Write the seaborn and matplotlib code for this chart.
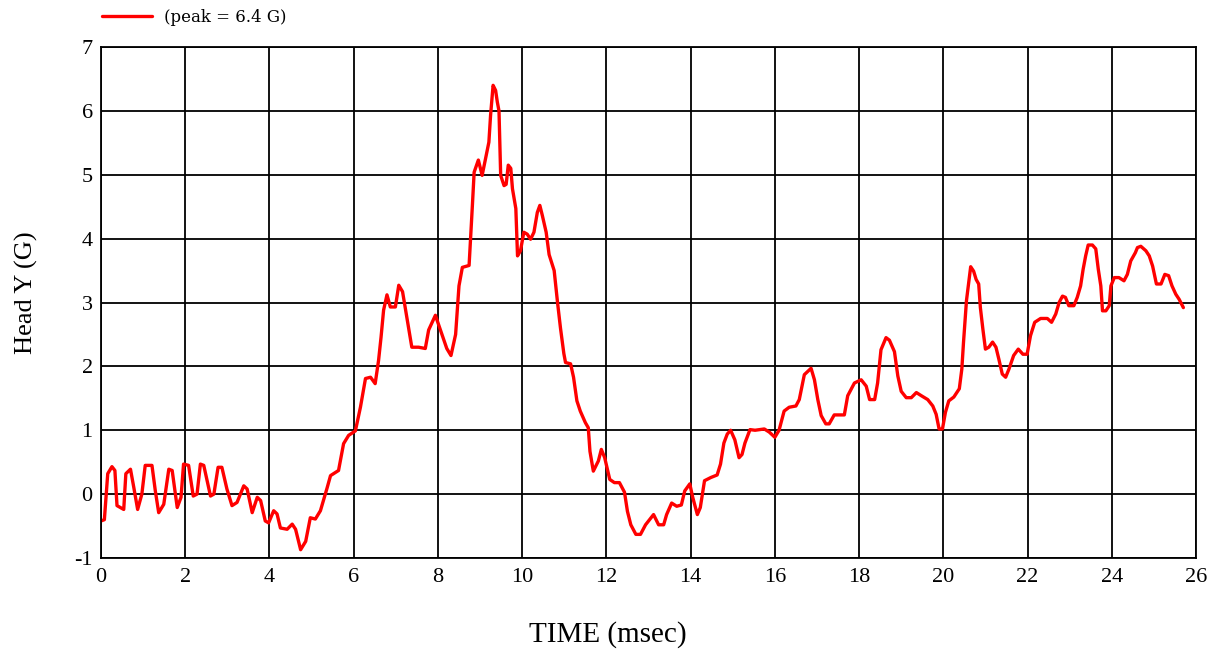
import matplotlib
matplotlib.use("Agg")
import matplotlib.pyplot as plt
import seaborn as sns
import pandas as pd

time_ms = [0.00, 0.08, 0.16, 0.26, 0.33, 0.38, 0.54, 0.59, 0.70, 0.78, 0.87, 0.97, 1.05, 1.21, 1.29, 1.37,
           1.49, 1.61, 1.69, 1.81, 1.90, 1.96, 2.08, 2.19, 2.28, 2.36, 2.44, 2.60, 2.68, 2.78, 2.87, 2.99,
           3.11, 3.23, 3.39, 3.47, 3.59, 3.71, 3.79, 3.90, 3.98, 4.10, 4.18, 4.26, 4.42, 4.54, 4.62, 4.74,
           4.86, 4.97, 5.09, 5.21, 5.37, 5.45, 5.64, 5.76, 5.88, 6.04, 6.16, 6.28, 6.40, 6.51, 6.59, 6.65,
           6.71, 6.79, 6.87, 6.99, 7.07, 7.16, 7.26, 7.38, 7.54, 7.70, 7.78, 7.94, 8.09, 8.21, 8.31, 8.42,
           8.50, 8.58, 8.74, 8.78, 8.82, 8.86, 8.96, 9.05, 9.13, 9.21, 9.25, 9.31, 9.37, 9.41, 9.45, 9.49,
           9.57, 9.62, 9.67, 9.73, 9.77, 9.85, 9.87, 9.89, 9.96, 10.04, 10.12, 10.20, 10.28, 10.36, 10.42,
           10.48, 10.57, 10.64, 10.76, 10.84, 10.91, 10.99, 11.03, 11.15, 11.22, 11.30, 11.38, 11.50, 11.57,
           11.61, 11.69, 11.81, 11.88, 11.96, 12.08, 12.19, 12.31, 12.43, 12.50, 12.58, 12.70, 12.81, 12.93,
           13.12, 13.24, 13.36, 13.43, 13.55, 13.67, 13.78, 13.86, 13.98, 14.05, 14.16, 14.23, 14.33, 14.48,
           14.63, 14.71, 14.79, 14.87, 14.95, 15.05, 15.15, 15.22, 15.29, 15.41, 15.53, 15.65, 15.75, 15.87,
           16.00, 16.10, 16.22, 16.34, 16.50, 16.58, 16.70, 16.86, 16.94, 17.02, 17.10, 17.21, 17.29, 17.41,
           17.65, 17.73, 17.89, 18.05, 18.17, 18.25, 18.37, 18.44, 18.52, 18.64, 18.72, 18.84, 18.92, 19.00,
           19.12, 19.24, 19.36, 19.48, 19.63, 19.75, 19.83, 19.90, 19.98, 20.05, 20.13, 20.25, 20.38, 20.44,
           20.48, 20.55, 20.60, 20.65, 20.72, 20.78, 20.84, 20.88, 20.94, 21.00, 21.08, 21.17, 21.25, 21.32,
           21.40, 21.48, 21.56, 21.67, 21.78, 21.89, 21.99, 22.07, 22.17, 22.31, 22.47, 22.57, 22.67, 22.75,
           22.83, 22.90, 22.98, 23.10, 23.18, 23.26, 23.32, 23.38, 23.44, 23.54, 23.62, 23.68, 23.74, 23.78,
           23.86, 23.94, 23.98, 24.06, 24.17, 24.29, 24.37, 24.45, 24.56, 24.61, 24.69, 24.81, 24.89, 24.97,
           25.06, 25.17, 25.26, 25.35, 25.43, 25.52, 25.60, 25.70]

head_y_g = [-0.42, -0.40, 0.32, 0.43, 0.37, -0.18, -0.24, 0.32, 0.39, 0.10, -0.24, 0.00, 0.45, 0.45, 0.05, -0.29,
            -0.16, 0.39, 0.37, -0.21, -0.05, 0.47, 0.45, -0.03, 0.00, 0.47, 0.45, -0.03, 0.00, 0.42, 0.42, 0.08,
            -0.18, -0.13, 0.13, 0.08, -0.29, -0.05, -0.10, -0.42, -0.45, -0.26, -0.31, -0.53, -0.55, -0.47, -0.55, -0.87,
            -0.74, -0.37, -0.39, -0.26, 0.10, 0.29, 0.37, 0.79, 0.92, 0.99, 1.36, 1.81, 1.83, 1.73, 2.09, 2.46,
            2.88, 3.12, 2.93, 2.93, 3.27, 3.17, 2.77, 2.30, 2.30, 2.28, 2.57, 2.80, 2.51, 2.28, 2.17, 2.50,
            3.26, 3.55, 3.58, 4.05, 4.54, 5.04, 5.23, 4.99, 5.25, 5.51, 5.93, 6.40, 6.32, 6.14, 6.00, 4.99,
            4.83, 4.85, 5.15, 5.10, 4.78, 4.47, 4.10, 3.73, 3.81, 4.10, 4.07, 3.99, 4.10, 4.41, 4.52,
            4.36, 4.10, 3.75, 3.50, 3.00, 2.60, 2.20, 2.06, 2.04, 1.83, 1.46, 1.30, 1.12, 1.04,
            0.67, 0.36, 0.52, 0.70, 0.57, 0.23, 0.18, 0.18, 0.03, -0.27, -0.48, -0.63, -0.63, -0.48,
            -0.32, -0.48, -0.48, -0.32, -0.14, -0.19, -0.17, 0.05, 0.16, -0.05, -0.32, -0.21, 0.21, 0.26,
            0.30, 0.47, 0.80, 0.94, 1.00, 0.85, 0.57, 0.62, 0.80, 1.01, 1.00, 1.01, 1.02, 0.97,
            0.89, 1.00, 1.30, 1.36, 1.38, 1.48, 1.87, 1.97, 1.79, 1.48, 1.23, 1.10, 1.10, 1.24,
            1.24, 1.54, 1.74, 1.79, 1.69, 1.48, 1.48, 1.74, 2.26, 2.45, 2.41, 2.23, 1.85, 1.61,
            1.51, 1.51, 1.59, 1.54, 1.48, 1.38, 1.25, 1.02, 1.02, 1.28, 1.46, 1.52, 1.65, 1.96,
            2.38, 3.03, 3.29, 3.56, 3.49, 3.36, 3.29, 2.92, 2.58, 2.27, 2.30, 2.38, 2.30, 2.11,
            1.88, 1.83, 1.96, 2.17, 2.27, 2.19, 2.19, 2.48, 2.69, 2.75, 2.75, 2.69, 2.82, 3.00,
            3.10, 3.08, 2.95, 2.95, 3.08, 3.26, 3.52, 3.73, 3.90, 3.90, 3.84, 3.52, 3.26, 2.87,
            2.87, 2.95, 3.26, 3.39, 3.39, 3.34, 3.44, 3.65, 3.78, 3.86, 3.88, 3.81, 3.73, 3.57,
            3.29, 3.29, 3.44, 3.42, 3.26, 3.13, 3.05, 2.92]

x_ticks = list(range(0, 27, 2))
y_ticks = list(range(-1, 8))
legend_label = "(peak = 6.4 G)"
x_label = "TIME (msec)"
y_label = "Head Y (G)"

sns.set_style("white")
plt.rcParams["font.family"] = ["Liberation Serif", "DejaVu Serif"]
plt.rcParams["text.color"] = "black"
plt.rcParams["axes.labelcolor"] = "black"
plt.rcParams["xtick.color"] = "black"
plt.rcParams["ytick.color"] = "black"

df = pd.DataFrame({"t": time_ms, "g": head_y_g})

W, H = 1221, 655
fig = plt.figure(figsize=(W / 100, H / 100), dpi=100)
L, R, T, B = 101, 1196, 47, 558
ax = fig.add_axes([L / W, 1 - B / H, (R - L) / W, (B - T) / H])

sns.lineplot(data=df, x="t", y="g", ax=ax, color="#ff0000", linewidth=2.4,
             sort=False, estimator=None, label=legend_label)

ax.set_xlim(0, 26)
ax.set_ylim(-1, 7)
ax.set_xticks(x_ticks)
ax.set_yticks(y_ticks)
ax.set_xticklabels([str(v) for v in x_ticks], fontsize=16)
ax.set_yticklabels([str(v) for v in y_ticks], fontsize=16)
ax.tick_params(axis="x", length=0, pad=7)
ax.tick_params(axis="y", length=0, pad=6)
ax.grid(True, color="black", linewidth=1.3)
for s in ax.spines.values():
    s.set_color("black")
    s.set_linewidth(1.3)

ax.set_xlabel(x_label, fontsize=21, va="center")
ax.xaxis.set_label_coords((608 - L) / (R - L), -(635 - B) / (B - T))
ax.set_ylabel(y_label, fontsize=19, va="center")
ax.yaxis.set_label_coords(-(L - 26) / (R - L), (B - 293) / (B - T))

leg = ax.legend(loc="center left", bbox_to_anchor=(102 / W, 1 - 17 / H),
                bbox_transform=fig.transFigure, frameon=False,
                prop={"family": "DejaVu Serif", "size": 12},
                handlelength=3.0, handletextpad=0.75, borderaxespad=0, borderpad=0)

fig.savefig("out.png", dpi=100)
